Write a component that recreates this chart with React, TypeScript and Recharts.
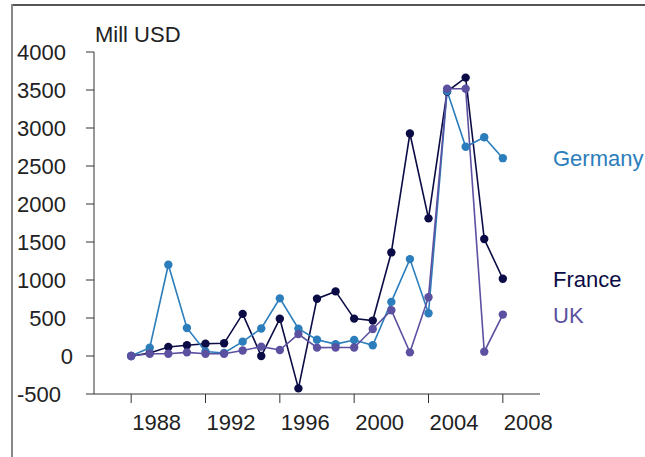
import React from 'react';
import { LineChart, Line, XAxis, YAxis } from 'recharts';

const years = [1988, 1989, 1990, 1991, 1992, 1993, 1994, 1995, 1996, 1997, 1998, 1999, 2000, 2001, 2002, 2003, 2004, 2005, 2006, 2007, 2008];
const france = [0, 40, 119, 141, 162, 167, 554, 0, 490, -426, 754, 850, 492, 466, 1363, 2928, 1811, 3480, 3663, 1539, 1016];
const germany = [0, 110, 1200, 369, 60, 40, 189, 362, 758, 360, 215, 156, 211, 141, 712, 1275, 563, 3486, 2753, 2879, 2603];
const uk = [0, 30, 30, 48, 30, 30, 72, 123, 79, 288, 110, 112, 112, 356, 602, 48, 774, 3517, 3517, 57, 545];

const xTicks = [1988, 1992, 1996, 2000, 2004, 2008];
const yTicks = [-500, 0, 500, 1000, 1500, 2000, 2500, 3000, 3500, 4000];

const seriesNames = { france: 'France', germany: 'Germany', uk: 'UK' };
const colors = { france: '#0b0b45', germany: '#2b7dbb', uk: '#5b51a0' };

const data = years.map((y, i) => ({ year: y, france: france[i], germany: germany[i], uk: uk[i] }));

const FONT = '"Liberation Sans", Arial, sans-serif';

const XTick = (props: any) => {
  const { x, y, payload } = props;
  return (
    <text x={x + 1} y={y} dy="0.71em" textAnchor="start" fontSize={22} fill="#222" fontFamily={FONT}>
      {payload.value}
    </text>
  );
};

const YTick = (props: any) => {
  const { x, y, payload } = props;
  const v = payload.value;
  const shift = v < 0 ? -5 : v === 0 ? 7 : 0;
  return (
    <text x={x + shift} y={y} dy="0.355em" textAnchor="end" fontSize={22} fill="#222" fontFamily={FONT}>
      {v}
    </text>
  );
};

export default function App() {
  return (
    <div style={{ position: 'absolute', left: 0, top: 0, width: 645, height: 457, background: '#fff', fontFamily: FONT }}>
      <LineChart
        width={645}
        height={457}
        data={data}
        margin={{ top: 52, right: 105, bottom: 23, left: 0 }}
        style={{ fontFamily: FONT }}
      >
        <XAxis
          dataKey="year"
          type="number"
          domain={[1986, 2010]}
          ticks={xTicks}
          height={40}
          tickSize={9}
          tickMargin={11}
          axisLine={{ stroke: '#333', strokeWidth: 1 }}
          tickLine={{ stroke: '#333', strokeWidth: 1 }}
          tick={<XTick />}
          interval={0}
        />
        <YAxis
          type="number"
          domain={[-500, 4000]}
          ticks={yTicks}
          width={94}
          tickSize={8}
          tickMargin={20}
          axisLine={{ stroke: '#333', strokeWidth: 1 }}
          tickLine={{ stroke: '#333', strokeWidth: 1 }}
          tick={<YTick />}
          interval={0}
        />
        <Line type="linear" dataKey="france" name={seriesNames.france} stroke={colors.france} strokeWidth={1.6}
          dot={{ r: 4.2, fill: colors.france, stroke: colors.france, strokeWidth: 0 }} isAnimationActive={false} />
        <Line type="linear" dataKey="germany" name={seriesNames.germany} stroke={colors.germany} strokeWidth={1.6}
          dot={{ r: 4.2, fill: colors.germany, stroke: colors.germany, strokeWidth: 0 }} isAnimationActive={false} />
        <Line type="linear" dataKey="uk" name={seriesNames.uk} stroke={colors.uk} strokeWidth={1.6}
          dot={{ r: 4.2, fill: colors.uk, stroke: colors.uk, strokeWidth: 0 }} isAnimationActive={false} />
      </LineChart>
      <svg width={645} height={457} style={{ position: 'absolute', left: 0, top: 0, pointerEvents: 'none' }}>
        <line x1={12} y1={5} x2={645} y2={5} stroke="#555" strokeWidth={2} />
        <line x1={12} y1={4} x2={12} y2={457} stroke="#888" strokeWidth={2} />
        <text x={95} y={42} fontSize={22} fill="#222" fontFamily={FONT}>Mill USD</text>
        <text x={553} y={166} fontSize={22} fill={colors.germany} fontFamily={FONT}>{seriesNames.germany}</text>
        <text x={553} y={287} fontSize={22} fill={colors.france} fontFamily={FONT}>{seriesNames.france}</text>
        <text x={553} y={323} fontSize={22} fill={colors.uk} fontFamily={FONT}>{seriesNames.uk}</text>
      </svg>
    </div>
  );
}
